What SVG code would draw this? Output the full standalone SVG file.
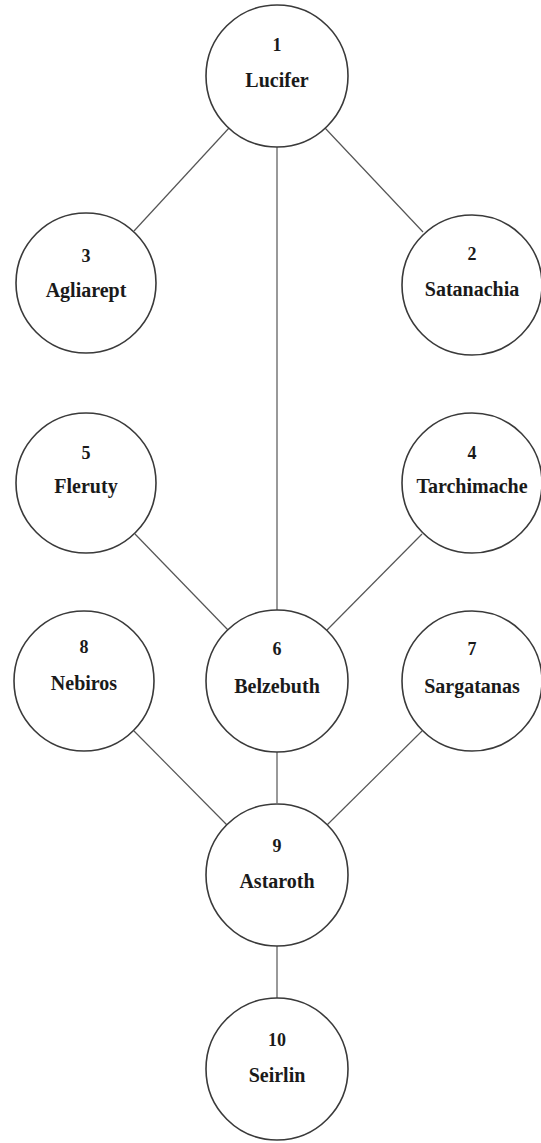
<svg xmlns="http://www.w3.org/2000/svg" width="541" height="1143" viewBox="0 0 541 1143">
<style>
.node circle{fill:#fff;stroke:#3a3a3a;stroke-width:1.6}
.num{font-family:"Liberation Serif",serif;font-weight:bold;font-size:18px;fill:#1a1a1a;text-anchor:middle}
.name{font-family:"Liberation Serif",serif;font-weight:bold;font-size:20px;fill:#1a1a1a;text-anchor:middle}
#connectors line{stroke:#555;stroke-width:1.2}
</style>
<rect width="541" height="1143" fill="#fff"/>
<g id="connectors">
<line x1="229" y1="128" x2="134" y2="231"/>
<line x1="325" y1="128" x2="423" y2="232"/>
<line x1="277" y1="147" x2="277" y2="610"/>
<line x1="135" y1="534" x2="228" y2="630"/>
<line x1="422" y1="534" x2="327" y2="630"/>
<line x1="277" y1="752" x2="277" y2="803"/>
<line x1="134" y1="731" x2="227" y2="825"/>
<line x1="422" y1="731" x2="327" y2="825"/>
<line x1="277" y1="946" x2="277" y2="998"/>
</g>
<g id="n1" class="node"><circle cx="277" cy="76" r="71"/><text class="num" x="277" y="51">1</text><text class="name" x="277" y="87">Lucifer</text></g>
<g id="n2" class="node"><circle cx="472" cy="285" r="70"/><text class="num" x="472" y="260">2</text><text class="name" x="472" y="296">Satanachia</text></g>
<g id="n3" class="node"><circle cx="86" cy="283" r="70"/><text class="num" x="86" y="262">3</text><text class="name" x="86" y="297">Agliarept</text></g>
<g id="n4" class="node"><circle cx="472" cy="483" r="70"/><text class="num" x="472" y="459">4</text><text class="name" x="472" y="493">Tarchimache</text></g>
<g id="n5" class="node"><circle cx="86" cy="483" r="70"/><text class="num" x="86" y="459">5</text><text class="name" x="86" y="493">Fleruty</text></g>
<g id="n6" class="node"><circle cx="277" cy="681" r="71"/><text class="num" x="277" y="655">6</text><text class="name" x="277" y="693">Belzebuth</text></g>
<g id="n7" class="node"><circle cx="472" cy="681" r="70"/><text class="num" x="472" y="655">7</text><text class="name" x="472" y="693">Sargatanas</text></g>
<g id="n8" class="node"><circle cx="84" cy="681" r="70"/><text class="num" x="84" y="653">8</text><text class="name" x="84" y="690">Nebiros</text></g>
<g id="n9" class="node"><circle cx="277" cy="875" r="71"/><text class="num" x="277" y="852">9</text><text class="name" x="277" y="888">Astaroth</text></g>
<g id="n10" class="node"><circle cx="277" cy="1069" r="71"/><text class="num" x="277" y="1046">10</text><text class="name" x="277" y="1082">Seirlin</text></g>
</svg>
